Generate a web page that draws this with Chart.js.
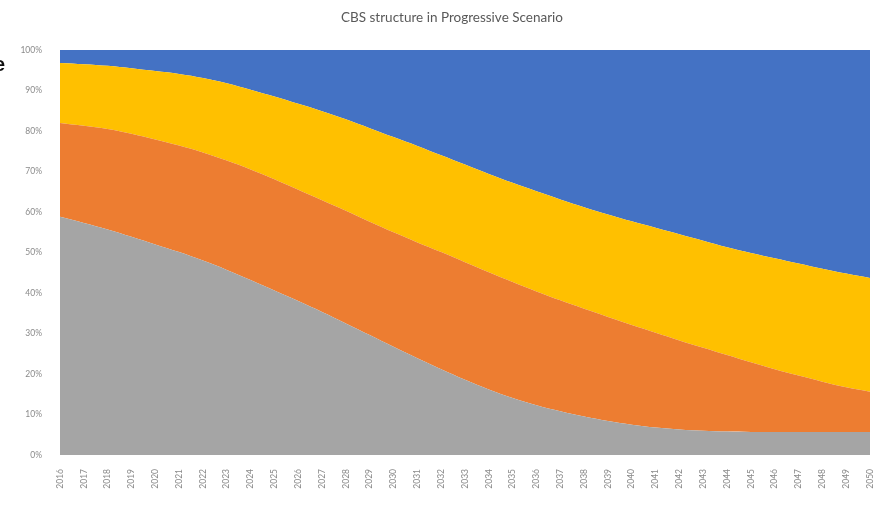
<!DOCTYPE html>
<html>
<head>
<meta charset="utf-8">
<script src="https://cdn.jsdelivr.net/npm/chart.js@4"></script>
<style>
  html, body { margin: 0; padding: 0; background: #ffffff; }
  #wrap { width: 890px; height: 505px; position: relative; }
</style>
</head>
<body>
<div id="wrap"><canvas id="c" width="890" height="505"></canvas></div>
<script>
const chartTitle = "CBS structure in Progressive Scenario";
const years = ["2016","2017","2018","2019","2020","2021","2022","2023","2024","2025",
  "2026","2027","2028","2029","2030","2031","2032","2033","2034","2035",
  "2036","2037","2038","2039","2040","2041","2042","2043","2044","2045",
  "2046","2047","2048","2049","2050"];
const yTicks = [0,10,20,30,40,50,60,70,80,90,100];

// shares in %, bottom to top
const grayShare = [58.8,57.3,55.7,53.9,52.0,50.1,48.0,45.7,43.2,40.6,
  38.0,35.3,32.5,29.6,26.7,23.9,21.2,18.6,16.2,14.1,
  12.3,10.8,9.5,8.4,7.5,6.8,6.3,6.0,5.8,5.7,
  5.7,5.7,5.7,5.7,5.7];
const orangeShare = [23.2,24.0,24.8,25.4,25.9,26.3,26.7,27.0,27.3,27.5,
  27.5,27.6,27.8,28.0,28.3,28.6,28.9,29.0,28.9,28.6,
  28.1,27.4,26.6,25.7,24.6,23.4,22.0,20.5,18.9,17.2,
  15.5,13.9,12.4,11.0,9.9];
const yellowShare = [14.8,15.2,15.6,16.2,16.9,17.7,18.4,19.1,19.7,20.4,
  21.2,22.0,22.6,23.1,23.5,23.8,23.9,24.1,24.3,24.5,
  24.7,24.9,25.1,25.3,25.6,25.9,26.2,26.4,26.6,27.0,
  27.4,27.7,27.9,28.1,28.1];
const blueShare = [3.2,3.5,3.9,4.5,5.2,5.9,6.9,8.2,9.8,11.5,
  13.3,15.1,17.1,19.3,21.5,23.7,26.0,28.3,30.6,32.8,
  34.9,36.9,38.8,40.6,42.3,43.9,45.5,47.1,48.7,50.1,
  51.4,52.7,54.0,55.2,56.3];

const seriesColors = ["#A5A5A5", "#ED7D31", "#FFC000", "#4472C4"];
const seriesData = [grayShare, orangeShare, yellowShare, blueShare];

const datasets = seriesData.map((d, i) => ({
  label: "s" + i,
  data: d,
  backgroundColor: seriesColors[i],
  borderColor: seriesColors[i],
  borderWidth: 0,
  pointRadius: 0,
  pointHoverRadius: 0,
  tension: 0.35,
  fill: i === 0 ? "origin" : "-1"
}));

// title (placed as in the reference) and the cropped glyph at the left edge
const extraText = {
  id: "extraText",
  afterDraw(chart) {
    const ctx = chart.ctx;
    ctx.save();
    ctx.fillStyle = "#595959";
    ctx.font = "13.5px Lato";
    ctx.textAlign = "center";
    ctx.textBaseline = "middle";
    ctx.fillText(chartTitle, 452, 18);
    ctx.fillStyle = "#111111";
    ctx.font = "bold 20px 'Liberation Sans'";
    ctx.textAlign = "left";
    ctx.textBaseline = "alphabetic";
    ctx.fillText("e", -6, 71);
    ctx.restore();
  }
};

new Chart(document.getElementById("c"), {
  type: "line",
  data: { labels: years, datasets: datasets },
  plugins: [extraText],
  options: {
    responsive: false,
    animation: false,
    layout: { padding: { left: 0, right: 20, top: 50, bottom: 0 } },
    plugins: {
      legend: { display: false },
      tooltip: { enabled: false },
      title: { display: false }
    },
    scales: {
      x: {
        offset: false,
        grid: { display: false },
        border: { display: false },
        ticks: {
          autoSkip: false,
          maxRotation: 90,
          minRotation: 90,
          color: "#8a8a8a",
          font: { family: "Lato", size: 8.5 },
          padding: 6
        },
        afterFit: (s) => { s.height = 50; }
      },
      y: {
        stacked: true,
        min: 0,
        max: 100,
        afterBuildTicks: (s) => { s.ticks = yTicks.map(v => ({ value: v })); },
        grid: { display: false },
        border: { display: false },
        ticks: {
          color: "#8a8a8a",
          font: { family: "Lato", size: 8.5 },
          padding: 10,
          callback: (v) => v + "%"
        },
        afterFit: (s) => { s.width = 60; }
      }
    }
  }
});
</script>
</body>
</html>
